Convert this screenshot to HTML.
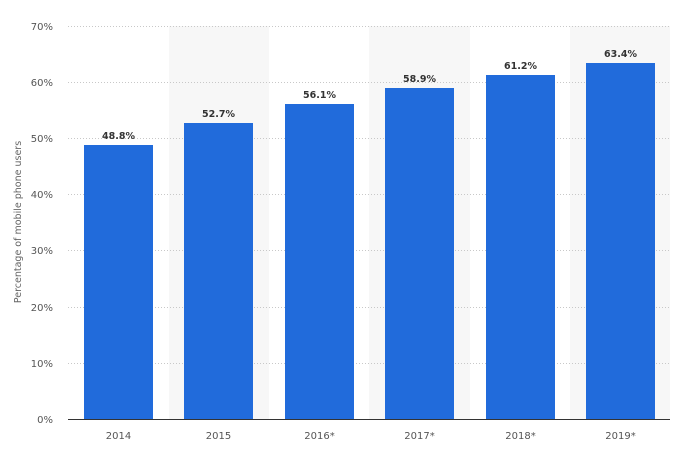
<!DOCTYPE html>
<html><head><meta charset="utf-8"><style>
body{margin:0;background:#fff;}
svg{display:block;font-family:"DejaVu Sans","Liberation Sans",sans-serif;}
</style></head><body>
<svg width="676" height="458" viewBox="0 0 676 458" xmlns="http://www.w3.org/2000/svg">
<rect width="676" height="458" fill="#fff"/>
<rect x="169" y="26" width="100" height="393" fill="#f7f7f7"/>
<rect x="369" y="26" width="101" height="393" fill="#f7f7f7"/>
<rect x="570" y="26" width="100" height="393" fill="#f7f7f7"/>
<g stroke="#c8c8c8" stroke-width="1" stroke-dasharray="1,2">
<line x1="68" x2="670" y1="26.5" y2="26.5"/>
<line x1="68" x2="670" y1="82.5" y2="82.5"/>
<line x1="68" x2="670" y1="138.5" y2="138.5"/>
<line x1="68" x2="670" y1="194.5" y2="194.5"/>
<line x1="68" x2="670" y1="250.5" y2="250.5"/>
<line x1="68" x2="670" y1="307.5" y2="307.5"/>
<line x1="68" x2="670" y1="363.5" y2="363.5"/>
</g>
<line x1="68" x2="670" y1="419.5" y2="419.5" stroke="#333" stroke-width="1"/>
<g fill="#216bdb">
<rect x="84" y="145" width="69" height="274"/>
<rect x="184" y="123" width="69" height="296"/>
<rect x="285" y="104" width="69" height="315"/>
<rect x="385" y="88" width="69" height="331"/>
<rect x="486" y="75" width="69" height="344"/>
<rect x="586" y="63" width="69" height="356"/>
</g>
<g font-size="9.5" font-weight="bold" fill="#333" text-anchor="middle">
<text x="118.5" y="139">48.8%</text>
<text x="218.5" y="117">52.7%</text>
<text x="319.5" y="98">56.1%</text>
<text x="419.5" y="82">58.9%</text>
<text x="520.5" y="69">61.2%</text>
<text x="620.5" y="57">63.4%</text>
</g>
<g font-size="10" fill="#555" text-anchor="end">
<text x="53" y="30">70%</text>
<text x="53" y="86">60%</text>
<text x="53" y="142">50%</text>
<text x="53" y="198">40%</text>
<text x="53" y="254">30%</text>
<text x="53" y="311">20%</text>
<text x="53" y="367">10%</text>
<text x="53" y="423">0%</text>
</g>
<g font-size="10" fill="#555" text-anchor="middle">
<text x="118.5" y="439">2014</text>
<text x="218.5" y="439">2015</text>
<text x="319.5" y="439">2016*</text>
<text x="419.5" y="439">2017*</text>
<text x="520.5" y="439">2018*</text>
<text x="620.5" y="439">2019*</text>
</g>
<text x="0" y="0" font-size="9.5" fill="#666" text-anchor="middle" transform="translate(21,222) rotate(-90)">Percentage of mobile phone users</text>
</svg>
</body></html>
